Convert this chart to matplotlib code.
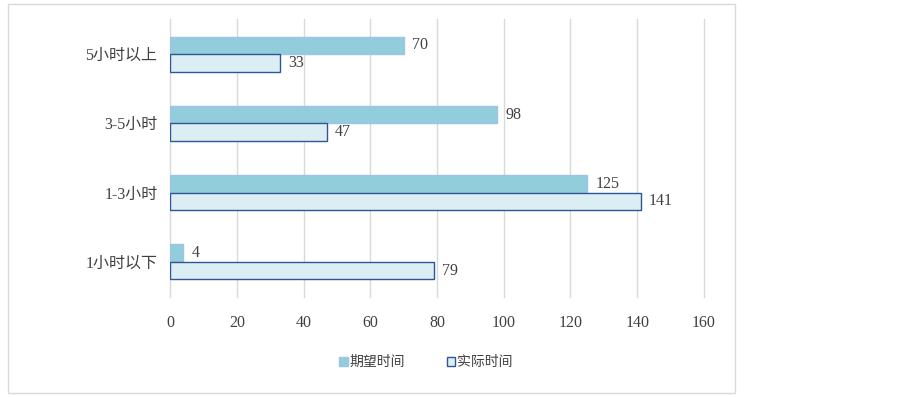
import matplotlib.pyplot as plt
from matplotlib.patches import Rectangle
import numpy as np

# data
categories = ['1小时以下', '1-3小时', '3-5小时', '5小时以上']
expected = [4, 125, 98, 70]
actual = [79, 141, 47, 33]
series_names = ['期望时间', '实际时间']
xticks = [0, 20, 40, 60, 80, 100, 120, 140, 160]

fam = ['Liberation Serif', 'Noto Sans CJK SC']
fam_cjk = ['Noto Sans CJK SC', 'DejaVu Sans']

fig = plt.figure(figsize=(9.03, 3.97), dpi=100)
ax = fig.add_axes([0.1883, 0.2531, 0.5913, 0.6978])

y = np.arange(len(categories))
h = 0.254
c_exp, e_exp = '#92CDDC', '#9DC3E6'
c_act, e_act = '#DAEEF3', '#2F5597'

ax.barh(y + h / 2, expected, height=h, color=c_exp, edgecolor=e_exp, linewidth=1, label=series_names[0], zorder=3)
ax.barh(y - h / 2, actual, height=h, color=c_act, edgecolor=e_act, linewidth=1, label=series_names[1], zorder=3)

for yi, v in zip(y, expected):
    ax.text(v + 2.4, yi + h / 2, str(v), va='center', ha='left', fontsize=11.5, family=fam, color='#404040')
for yi, v in zip(y, actual):
    ax.text(v + 2.4, yi - h / 2, str(v), va='center', ha='left', fontsize=11.5, family=fam, color='#404040')

ax.set_xlim(0, 160)
ax.set_ylim(-0.5, 3.5)
ax.set_xticks(xticks)
ax.set_yticks(y)
ax.set_yticklabels(categories)
for lbl in ax.get_xticklabels() + ax.get_yticklabels():
    lbl.set_family(fam)
    lbl.set_fontsize(11.5)
    lbl.set_color('#404040')
ax.tick_params(length=0)
ax.tick_params(axis='x', pad=13)
ax.tick_params(axis='y', pad=9)
ax.grid(axis='x', color='#d9d9d9', linewidth=1, zorder=0)
for gl in ax.get_xgridlines():
    gl.set_clip_on(False)
for s in ax.spines.values():
    s.set_visible(False)

leg = fig.legend(loc='center', bbox_to_anchor=(0.472, 0.088), ncol=2, frameon=False,
                 handlelength=0.6, handleheight=0.6, columnspacing=3.0, handletextpad=0.15,
                 prop={'family': fam_cjk, 'size': 10})
for t in leg.get_texts():
    t.set_color('#404040')

fig.patches.append(Rectangle((8 / 903, 4 / 397), 727 / 903, 389 / 397, transform=fig.transFigure,
                             fill=False, edgecolor='#d9d9d9', linewidth=1))

fig.savefig('out.png', dpi=100)
